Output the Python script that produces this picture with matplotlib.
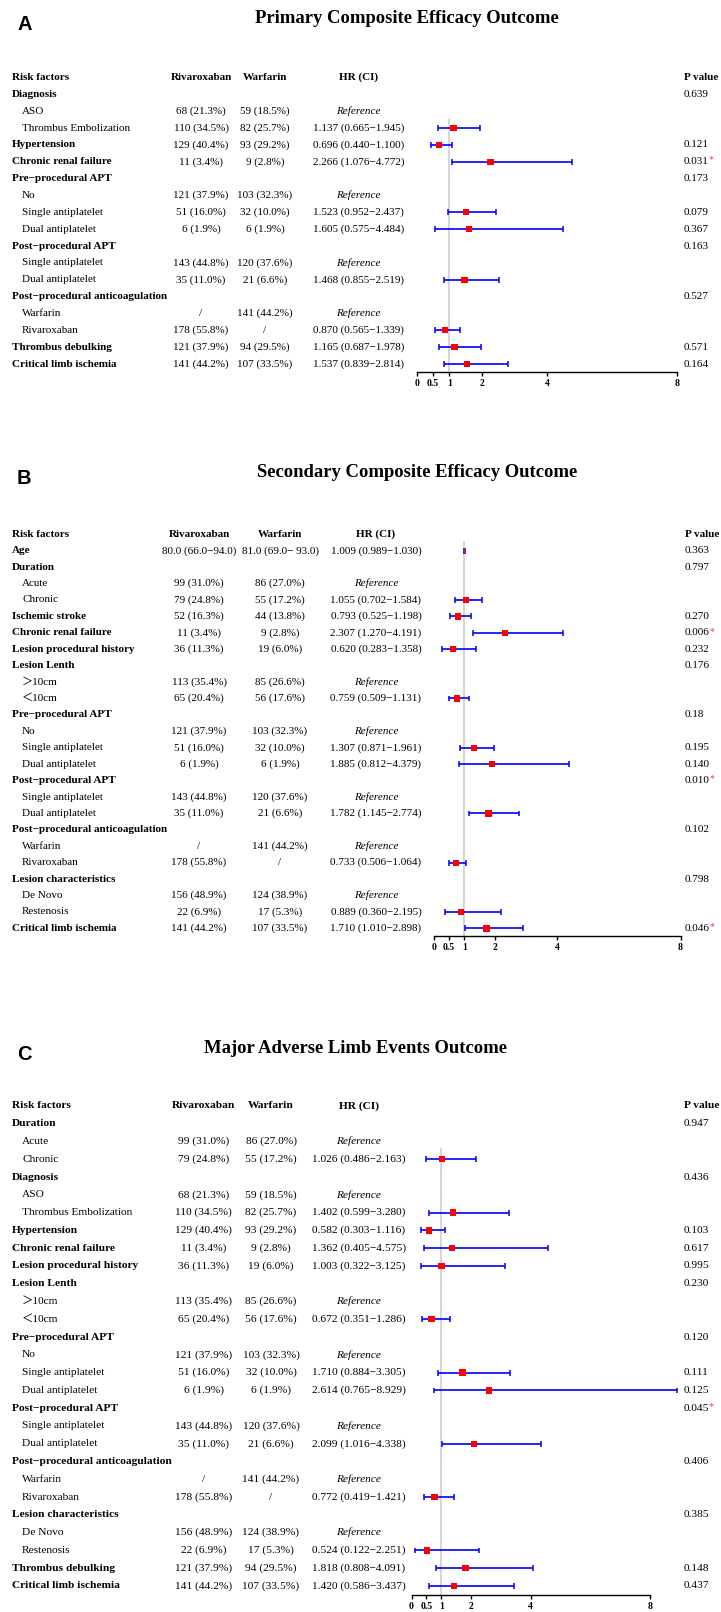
import matplotlib
matplotlib.use('Agg')
import matplotlib.pyplot as plt
from matplotlib import transforms
from matplotlib.patches import Rectangle

W, H = 721, 1612
SERIF = 'Liberation Serif'
M = '\u2212'

# ---- Panel A: Primary Composite Efficacy Outcome ----
a_labels = ['Diagnosis', 'ASO', 'Thrombus Embolization', 'Hypertension', 'Chronic renal failure',
            f'Pre{M}procedural APT', 'No', 'Single antiplatelet', 'Dual antiplatelet',
            f'Post{M}procedural APT', 'Single antiplatelet', 'Dual antiplatelet',
            f'Post{M}procedural anticoagulation', 'Warfarin', 'Rivaroxaban',
            'Thrombus debulking', 'Critical limb ischemia']
a_levels = [0, 1, 1, 0, 0, 0, 1, 1, 1, 0, 1, 1, 0, 1, 1, 0, 0]
a_riva = ['', '68 (21.3%)', '110 (34.5%)', '129 (40.4%)', '11 (3.4%)', '', '121 (37.9%)',
          '51 (16.0%)', '6 (1.9%)', '', '143 (44.8%)', '35 (11.0%)', '', '/', '178 (55.8%)',
          '121 (37.9%)', '141 (44.2%)']
a_warf = ['', '59 (18.5%)', '82 (25.7%)', '93 (29.2%)', '9 (2.8%)', '', '103 (32.3%)',
          '32 (10.0%)', '6 (1.9%)', '', '120 (37.6%)', '21 (6.6%)', '', '141 (44.2%)', '/',
          '94 (29.5%)', '107 (33.5%)']
a_ref = [False, True, False, False, False, False, True, False, False, False, True, False,
         False, True, False, False, False]
a_hr = [None, None, 1.137, 0.696, 2.266, None, None, 1.523, 1.605, None, None, 1.468,
        None, None, 0.870, 1.165, 1.537]
a_lo = [None, None, 0.665, 0.440, 1.076, None, None, 0.952, 0.575, None, None, 0.855,
        None, None, 0.565, 0.687, 0.839]
a_hi = [None, None, 1.945, 1.100, 4.772, None, None, 2.437, 4.484, None, None, 2.519,
        None, None, 1.339, 1.978, 2.814]
a_p = ['0.639', '', '', '0.121', '0.031', '0.173', '', '0.079', '0.367', '0.163', '', '',
       '0.527', '', '', '0.571', '0.164']
a_sig = [False, False, False, False, True, False, False, False, False, False, False, False,
         False, False, False, False, False]

# ---- Panel B: Secondary Composite Efficacy Outcome ----
b_labels = ['Age', 'Duration', 'Acute', 'Chronic', 'Ischemic stroke', 'Chronic renal failure',
            'Lesion procedural history', 'Lesion Lenth', '\uff1e10cm', '\uff1c10cm',
            f'Pre{M}procedural APT', 'No', 'Single antiplatelet', 'Dual antiplatelet',
            f'Post{M}procedural APT', 'Single antiplatelet', 'Dual antiplatelet',
            f'Post{M}procedural anticoagulation', 'Warfarin', 'Rivaroxaban',
            'Lesion characteristics', 'De Novo', 'Restenosis', 'Critical limb ischemia']
b_levels = [0, 0, 1, 1, 0, 0, 0, 0, 1, 1, 0, 1, 1, 1, 0, 1, 1, 0, 1, 1, 0, 1, 1, 0]
b_riva = [f'80.0 (66.0{M}94.0)', '', '99 (31.0%)', '79 (24.8%)', '52 (16.3%)', '11 (3.4%)',
          '36 (11.3%)', '', '113 (35.4%)', '65 (20.4%)', '', '121 (37.9%)', '51 (16.0%)',
          '6 (1.9%)', '', '143 (44.8%)', '35 (11.0%)', '', '/', '178 (55.8%)', '',
          '156 (48.9%)', '22 (6.9%)', '141 (44.2%)']
b_warf = [f'81.0 (69.0{M} 93.0)', '', '86 (27.0%)', '55 (17.2%)', '44 (13.8%)', '9 (2.8%)',
          '19 (6.0%)', '', '85 (26.6%)', '56 (17.6%)', '', '103 (32.3%)', '32 (10.0%)',
          '6 (1.9%)', '', '120 (37.6%)', '21 (6.6%)', '', '141 (44.2%)', '/', '',
          '124 (38.9%)', '17 (5.3%)', '107 (33.5%)']
b_ref = [False, False, True, False, False, False, False, False, True, False, False, True,
         False, False, False, True, False, False, True, False, False, True, False, False]
b_hr = [1.009, None, None, 1.055, 0.793, 2.307, 0.620, None, None, 0.759, None, None,
        1.307, 1.885, None, None, 1.782, None, None, 0.733, None, None, 0.889, 1.710]
b_lo = [0.989, None, None, 0.702, 0.525, 1.270, 0.283, None, None, 0.509, None, None,
        0.871, 0.812, None, None, 1.145, None, None, 0.506, None, None, 0.360, 1.010]
b_hi = [1.030, None, None, 1.584, 1.198, 4.191, 1.358, None, None, 1.131, None, None,
        1.961, 4.379, None, None, 2.774, None, None, 1.064, None, None, 2.195, 2.898]
b_p = ['0.363', '0.797', '', '', '0.270', '0.006', '0.232', '0.176', '', '', '0.18', '',
       '0.195', '0.140', '0.010', '', '', '0.102', '', '', '0.798', '', '', '0.046']
b_sig = [False, False, False, False, False, True, False, False, False, False, False, False,
         False, False, True, False, False, False, False, False, False, False, False, True]

# ---- Panel C: Major Adverse Limb Events Outcome ----
c_labels = ['Duration', 'Acute', 'Chronic', 'Diagnosis', 'ASO', 'Thrombus Embolization',
            'Hypertension', 'Chronic renal failure', 'Lesion procedural history',
            'Lesion Lenth', '\uff1e10cm', '\uff1c10cm', f'Pre{M}procedural APT', 'No',
            'Single antiplatelet', 'Dual antiplatelet', f'Post{M}procedural APT',
            'Single antiplatelet', 'Dual antiplatelet', f'Post{M}procedural anticoagulation',
            'Warfarin', 'Rivaroxaban', 'Lesion characteristics', 'De Novo', 'Restenosis',
            'Thrombus debulking', 'Critical limb ischemia']
c_levels = [0, 1, 1, 0, 1, 1, 0, 0, 0, 0, 1, 1, 0, 1, 1, 1, 0, 1, 1, 0, 1, 1, 0, 1, 1, 0, 0]
c_riva = ['', '99 (31.0%)', '79 (24.8%)', '', '68 (21.3%)', '110 (34.5%)', '129 (40.4%)',
          '11 (3.4%)', '36 (11.3%)', '', '113 (35.4%)', '65 (20.4%)', '', '121 (37.9%)',
          '51 (16.0%)', '6 (1.9%)', '', '143 (44.8%)', '35 (11.0%)', '', '/', '178 (55.8%)',
          '', '156 (48.9%)', '22 (6.9%)', '121 (37.9%)', '141 (44.2%)']
c_warf = ['', '86 (27.0%)', '55 (17.2%)', '', '59 (18.5%)', '82 (25.7%)', '93 (29.2%)',
          '9 (2.8%)', '19 (6.0%)', '', '85 (26.6%)', '56 (17.6%)', '', '103 (32.3%)',
          '32 (10.0%)', '6 (1.9%)', '', '120 (37.6%)', '21 (6.6%)', '', '141 (44.2%)', '/',
          '', '124 (38.9%)', '17 (5.3%)', '94 (29.5%)', '107 (33.5%)']
c_ref = [False, True, False, False, True, False, False, False, False, False, True, False,
         False, True, False, False, False, True, False, False, True, False, False, True,
         False, False, False]
c_hr = [None, None, 1.026, None, None, 1.402, 0.582, 1.362, 1.003, None, None, 0.672, None,
        None, 1.710, 2.614, None, None, 2.099, None, None, 0.772, None, None, 0.524, 1.818,
        1.420]
c_lo = [None, None, 0.486, None, None, 0.599, 0.303, 0.405, 0.322, None, None, 0.351, None,
        None, 0.884, 0.765, None, None, 1.016, None, None, 0.419, None, None, 0.122, 0.808,
        0.586]
c_hi = [None, None, 2.163, None, None, 3.280, 1.116, 4.575, 3.125, None, None, 1.286, None,
        None, 3.305, 8.929, None, None, 4.338, None, None, 1.421, None, None, 2.251, 4.091,
        3.437]
c_p = ['0.947', '', '', '0.436', '', '', '0.103', '0.617', '0.995', '0.230', '', '', '0.120',
       '', '0.111', '0.125', '0.045', '', '', '0.406', '', '', '0.385', '', '', '0.148',
       '0.437']
c_sig = [False, False, False, False, False, False, False, False, False, False, False, False,
         False, False, False, False, True, False, False, False, False, False, False, False,
         False, False, False]

tick_vals = [0, 0.5, 1, 2, 4, 8]
tick_labels = ['0', '0.5', '1', '2', '4', '8']

fig = plt.figure(figsize=(W / 100, H / 100), dpi=100)


def fy(y):
    return 1 - y / H


def draw_panel(letter, title, labels, levels, riva, warf, ref, hr, lo, hi, pvals, sig, lay):
    x0, x8 = lay['x0'], lay['x8']
    y1, dy, yax = lay['y1'], lay['dy'], lay['yax']
    fs = lay['fs']
    top = y1 - 1.6 * dy
    ax = fig.add_axes([x0 / W, fy(yax), (x8 - x0) / W, (yax - top) / H])
    ax.set_xlim(0, 8)
    ybot = (yax - y1) / dy + 1
    ax.set_ylim(ybot, (top - y1) / dy + 1)
    ax.patch.set_visible(False)
    for s in ['left', 'top', 'right']:
        ax.spines[s].set_visible(False)
    ax.spines['bottom'].set_bounds(0, 8)
    ax.spines['bottom'].set_linewidth(1.0)
    ax.set_yticks([])
    ax.set_xticks(tick_vals)
    ax.set_xticklabels(tick_labels, fontfamily=SERIF, fontweight='bold', fontsize=7)
    ax.tick_params(axis='x', direction='out', length=3, width=1, pad=2)

    tr = transforms.blended_transform_factory(fig.transFigure, ax.transData)
    kw = dict(transform=tr, va='center', fontsize=fs, family=[SERIF, 'Noto Sans CJK SC'])

    # header row
    ax.text(lay['xl'] / W, 0, 'Risk factors', ha='left', fontweight='bold', **kw)
    ax.text(lay['xr'] / W, 0, 'Rivaroxaban', ha='center', fontweight='bold', **kw)
    ax.text(lay['xw'] / W, 0, 'Warfarin', ha='center', fontweight='bold', **kw)
    ax.text(lay['xh'] / W, 0, 'HR (CI)', ha='center', fontweight='bold', **kw)
    ax.text(lay['xp'] / W, 0, 'P value', ha='left', fontweight='bold', **kw)

    ppu = (x8 - x0) / 8.0
    first = None
    for i in range(len(labels)):
        r = i + 1
        if levels[i] == 0:
            ax.text(lay['xl'] / W, r, labels[i], ha='left', fontweight='bold', **kw)
        else:
            ax.text(lay['xi'] / W, r, labels[i], ha='left', **kw)
        ax.text(lay['xr'] / W, r, riva[i], ha='center', **kw)
        ax.text(lay['xw'] / W, r, warf[i], ha='center', **kw)
        if ref[i]:
            ax.text(lay['xh'] / W, r, 'Reference', ha='center', style='italic', **kw)
        elif hr[i] is not None:
            ax.text(lay['xh'] / W, r, f'{hr[i]:.3f} ({lo[i]:.3f}{M}{hi[i]:.3f})',
                    ha='center', **kw)
        if pvals[i]:
            t = ax.text(lay['xp'] / W, r, pvals[i], ha='left', **kw)
            if sig[i]:
                ax.annotate('*', xy=(1, 0.5), xycoords=t, xytext=(-0.3, 1.2),
                            textcoords='offset points', ha='left', va='center',
                            color='#e8413c', fontsize=fs - 1, family=SERIF)
        if hr[i] is not None:
            if first is None:
                first = r
            ch = 2.9 / dy
            ax.hlines(r, lo[i], hi[i], color='#0000ff', lw=1.2, clip_on=False, zorder=2)
            ax.vlines([lo[i], hi[i]], r - ch, r + ch, color='#0000ff', lw=1.1,
                      clip_on=False, zorder=2)
            bw = min(6.3 / ppu, hi[i] - lo[i])
            bh = 6.3 / dy
            ax.add_patch(Rectangle((hr[i] - bw / 2, r - bh / 2), bw, bh, facecolor='#ff0000',
                                   edgecolor='none', zorder=3, clip_on=False))
    ax.plot([1, 1], [first - 0.55, ybot], color='#cbcbcb', lw=1.1, zorder=0, clip_on=False)

    fig.text(lay['xt'] / W, fy(lay['yt']), title, ha='center', va='center', fontsize=13.4,
             fontweight='bold', family=SERIF)
    fig.text(17 / W, fy(lay['yt'] + 6), letter, ha='left', va='center', fontsize=14.5,
             fontweight='bold', family='Liberation Sans')


draw_panel('A', 'Primary Composite Efficacy Outcome', a_labels, a_levels, a_riva, a_warf,
           a_ref, a_hr, a_lo, a_hi, a_p, a_sig,
           dict(x0=416.6, x8=677.2, y1=94.3, dy=16.86, yax=372.3, fs=8.0, xl=11.5, xi=22.1,
                xr=201, xw=265, xh=358.5, xp=683.7, xt=406.5, yt=18.3))
draw_panel('B', 'Secondary Composite Efficacy Outcome', b_labels, b_levels, b_riva, b_warf,
           b_ref, b_hr, b_lo, b_hi, b_p, b_sig,
           dict(x0=433.6, x8=680.5, y1=550.7, dy=16.42, yax=936.0, fs=8.0, xl=11.5, xi=22.1,
                xr=199, xw=280, xh=376, xp=685, xt=416.8, yt=472.3))
draw_panel('C', 'Major Adverse Limb Events Outcome', c_labels, c_levels, c_riva, c_warf,
           c_ref, c_hr, c_lo, c_hi, c_p, c_sig,
           dict(x0=411.5, x8=649.7, y1=1123.7, dy=17.78, yax=1595.0, fs=8.2, xl=11.5, xi=22.1,
                xr=203.5, xw=271, xh=358.6, xp=683.7, xt=355.6, yt=1048.3))

fig.savefig('out.png', dpi=100)
